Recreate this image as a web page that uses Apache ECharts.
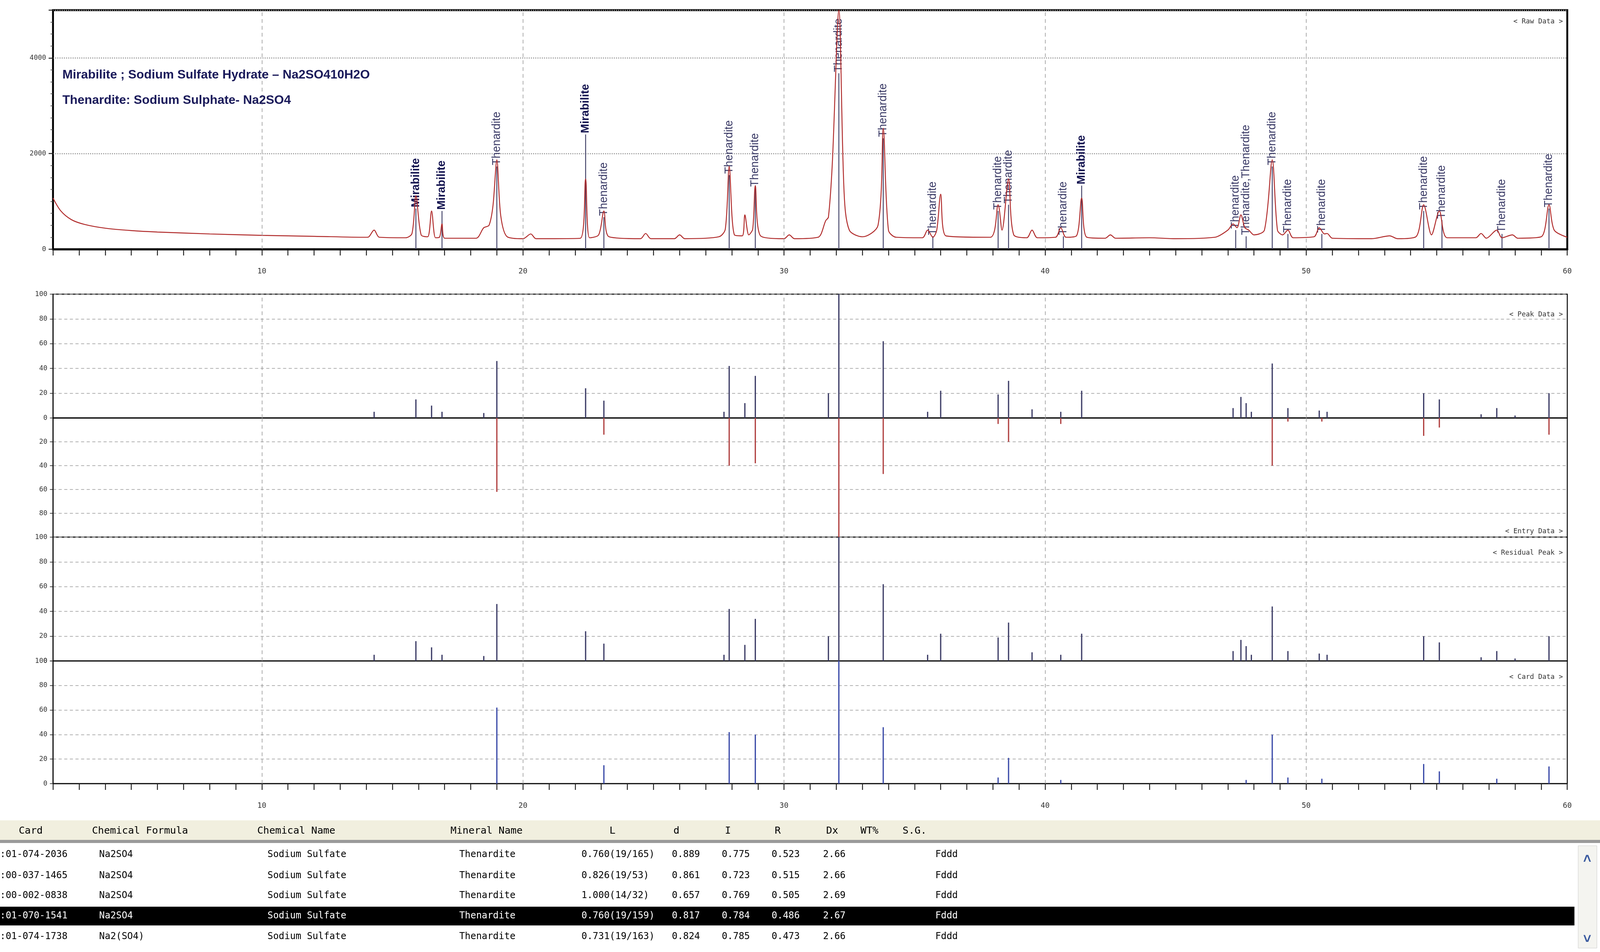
<!DOCTYPE html>
<html>
<head>
<script src="https://cdn.jsdelivr.net/npm/echarts@6/dist/echarts.min.js"></script>
</head>
<body style="margin:0;overflow:hidden">
<div id="main" style="width:100vw;height:100vh;background:#fff"></div>
<script>
// raw scan [2theta, counts]
var rawData = [[2,1070],[2.3,800],[2.7,620],[3.2,520],[4,440],[5,390],[6,360],[8,320],[10,290],[12,270],[14,250],[14.1,260],[14.3,400],[14.5,250],[15.5,240],[15.75,330],[15.9,1120],[16.1,300],[16.35,260],[16.5,800],[16.65,240],[16.8,250],[16.9,530],[17.0,230],[18.2,230],[18.5,450],[18.7,500],[18.85,900],[19.0,1870],[19.15,700],[19.4,260],[20.0,220],[20.3,320],[20.5,220],[22.2,230],[22.4,1470],[22.55,240],[22.9,300],[23.1,800],[23.3,260],[24.5,220],[24.7,330],[24.9,220],[25.8,220],[26.0,300],[26.2,220],[27.5,260],[27.75,420],[27.9,1730],[28.1,300],[28.4,280],[28.5,720],[28.65,300],[28.8,420],[28.9,1330],[29.1,280],[30.0,220],[30.2,300],[30.4,220],[31.3,250],[31.6,600],[31.7,670],[31.85,1800],[32.1,5000],[32.3,1200],[32.5,400],[33.0,260],[33.6,500],[33.8,2530],[34.0,400],[34.3,250],[35.3,240],[35.5,400],[35.7,250],[35.85,400],[36.0,1150],[36.2,280],[37.9,250],[38.2,930],[38.35,400],[38.6,1470],[38.8,300],[39.3,240],[39.5,400],[39.7,240],[40.4,250],[40.6,450],[40.8,250],[41.2,280],[41.4,1070],[41.6,250],[42.3,230],[42.5,300],[42.7,230],[44,240],[45,220],[46.5,250],[47.0,400],[47.2,530],[47.35,450],[47.5,720],[47.65,450],[47.8,400],[48.0,300],[48.4,400],[48.7,1870],[48.9,400],[49.1,300],[49.3,400],[49.5,240],[50.3,260],[50.5,450],[50.7,320],[50.8,330],[51.0,230],[52.5,220],[53.2,280],[53.5,220],[54.2,260],[54.5,930],[54.8,300],[55.1,800],[55.4,240],[56.5,240],[56.7,330],[56.9,230],[57.3,400],[57.5,240],[57.9,300],[58.1,230],[59.0,260],[59.3,930],[59.5,400],[60,250]];

// phase labels [2theta, label base counts, text, bold]
var phaseLabels = [[15.9,850,'Mirabilite',1],[16.9,800,'Mirabilite',1],[19.0,1730,'Thenardite',0],[22.4,2400,'Mirabilite',1],[23.1,670,'Thenardite',0],[27.9,1550,'Thenardite',0],[28.9,1280,'Thenardite',0],[32.1,3680,'Thenardite',0],[33.8,2320,'Thenardite',0],[35.7,270,'Thenardite',0],[38.2,800,'Thenardite',0],[38.6,930,'Thenardite',0],[40.7,270,'Thenardite',0],[41.4,1330,'Mirabilite',1],[47.3,400,'Thenardite',0],[47.7,270,'Thenardite,Thenardite',0],[48.7,1730,'Thenardite',0],[49.3,320,'Thenardite',0],[50.6,320,'Thenardite',0],[54.5,800,'Thenardite',0],[55.2,610,'Thenardite',0],[57.5,320,'Thenardite',0],[59.3,850,'Thenardite',0]];

var peakData = [[14.3,5],[15.9,15],[16.5,10],[16.9,5],[18.5,4],[19.0,46],[22.4,24],[23.1,14],[27.7,5],[27.9,42],[28.5,12],[28.9,34],[31.7,20],[32.1,100],[33.8,62],[35.5,5],[36.0,22],[38.2,19],[38.6,30],[39.5,7],[40.6,5],[41.4,22],[47.2,8],[47.5,17],[47.7,12],[47.9,5],[48.7,44],[49.3,8],[50.5,6],[50.8,5],[54.5,20],[55.1,15],[56.7,3],[57.3,8],[58.0,2],[59.3,20]];
var entryData = [[19.0,62],[23.1,14],[27.9,40],[28.9,38],[32.1,100],[33.8,47],[38.2,5],[38.6,20],[40.6,5],[48.7,40],[49.3,3],[50.6,3],[54.5,15],[55.1,8],[59.3,14]];
var residualData = [[14.3,5],[15.9,16],[16.5,11],[16.9,5],[18.5,4],[19.0,46],[22.4,24],[23.1,14],[27.7,5],[27.9,42],[28.5,13],[28.9,34],[31.7,20],[32.1,100],[33.8,62],[35.5,5],[36.0,22],[38.2,19],[38.6,31],[39.5,7],[40.6,5],[41.4,22],[47.2,8],[47.5,17],[47.7,12],[47.9,5],[48.7,44],[49.3,8],[50.5,6],[50.8,5],[54.5,20],[55.1,15],[56.7,3],[57.3,8],[58.0,2],[59.3,20]];
var cardData = [[19.0,62],[23.1,15],[27.9,42],[28.9,40],[32.1,100],[33.8,46],[38.2,5],[38.6,21],[40.6,3],[47.7,3],[48.7,40],[49.3,5],[50.6,4],[54.5,16],[55.1,10],[57.3,4],[59.3,14]];

var tableHeader = ['Card','Chemical Formula','Chemical Name','Mineral Name','L','d','I','R','Dx','WT%','S.G.'];
var tableRows = [
  [':01-074-2036','Na2SO4','Sodium Sulfate','Thenardite','0.760(19/165)','0.889','0.775','0.523','2.66','','Fddd'],
  [':00-037-1465','Na2SO4','Sodium Sulfate','Thenardite','0.826(19/53)','0.861','0.723','0.515','2.66','','Fddd'],
  [':00-002-0838','Na2SO4','Sodium Sulfate','Thenardite','1.000(14/32)','0.657','0.769','0.505','2.69','','Fddd'],
  [':01-070-1541','Na2SO4','Sodium Sulfate','Thenardite','0.760(19/159)','0.817','0.784','0.486','2.67','','Fddd'],
  [':01-074-1738','Na2(SO4)','Sodium Sulfate','Thenardite','0.731(19/163)','0.824','0.785','0.473','2.66','','Fddd']
];
var selectedRow = 3;
var panelTitles = ['< Raw Data >','< Peak Data >','< Entry Data >','< Residual Peak >','< Card Data >'];
var noteLines = ['Mirabilite ; Sodium Sulfate Hydrate \u2013 Na2SO410H2O','Thenardite: Sodium Sulphate- Na2SO4'];
var decadeLines = [10,20,30,40,50];

var dom = document.getElementById('main');
var SX = dom.clientWidth / 5132, SY = dom.clientHeight / 2437;   // layout measured in reference pixels
function px(v){ return v * SX; }
function py(v){ return v * SY; }
function font(size, w, fam){ return (w ? w + ' ' : '') + px(size) + 'px ' + fam; }

var mono = 'DejaVu Sans Mono';
var L = px(170), R = px(105);
var grids = [
  {left:L,right:R,top:py(26),height:py(612)},
  {left:L,right:R,top:py(753),height:py(317)},
  {left:L,right:R,top:py(1070),height:py(305)},
  {left:L,right:R,top:py(1375),height:py(317)},
  {left:L,right:R,top:py(1692),height:py(314)}
];
grids.forEach(function(g,i){g.show=true;g.borderColor='#000';g.borderWidth=px(i===0?6:3);g.backgroundColor='#fff';});

function xAx(i, labels){
  return {type:'value',gridIndex:i,min:2,max:60,interval:1,
    axisLine:{show:true,lineStyle:{color:'#000',width:px(i===0?6:3)}},
    axisTick:{show:i===0||i===4,length:py(16),lineStyle:{color:'#222',width:px(3)}},
    axisLabel:{show:labels,margin:py(40),fontFamily:mono,fontSize:px(24),color:'#333',
      formatter:function(v){return v%10===0?String(v):'';}},
    splitLine:{show:false}};
}
function yAx(i){
  if(i===0) return {type:'value',gridIndex:0,min:0,max:5000,interval:2000,
    axisLine:{show:true,lineStyle:{color:'#000',width:px(3)}},axisTick:{show:true,length:px(14),lineStyle:{color:'#222',width:px(3)}},
    minorTick:{show:true,splitNumber:8,length:px(8),lineStyle:{color:'#444',width:px(2)}},
    axisLabel:{fontFamily:mono,fontSize:px(22),color:'#333',margin:px(22),showMaxLabel:false,formatter:function(v){return String(v);}},
    splitLine:{show:true,lineStyle:{color:'#999',type:[px(3),px(4)],width:px(4)}}};
  return {type:'value',gridIndex:i,min:0,max:100,interval:20,inverse:i===2,
    axisLine:{show:true,lineStyle:{color:'#000',width:px(3)}},axisTick:{show:true,length:px(10),lineStyle:{color:'#222',width:px(2)}},
    axisLabel:{fontFamily:mono,fontSize:px(22),color:'#333',margin:px(18),showMinLabel:i!==2,showMaxLabel:i!==2},
    splitLine:{show:true,lineStyle:{color:'#999',type:[px(10),px(8)],width:px(2)}}};
}
function vlines(){
  return {silent:true,symbol:'none',label:{show:false},
    lineStyle:{color:'#999',type:[px(12),px(10)],width:px(2)},data:decadeLines.map(function(v){return {xAxis:v};})};
}
function sticks(i,data,color){
  return {type:'bar',xAxisIndex:i,yAxisIndex:i,data:data,barWidth:px(4),itemStyle:{color:color},
    markLine:vlines(),silent:true,z:3};
}

var graphics = [];
var titleTop = [40,790,1345,1400,1718];
panelTitles.forEach(function(t,i){
  graphics.push({type:'text',right:R+px(14),top:py(titleTop[i]),style:{text:t,font:font(22,'',mono),fill:'#333'},z:10});
});
noteLines.forEach(function(t,i){
  graphics.push({type:'text',left:px(200),top:py(165+i*65),style:{text:t,font:font(40,'bold','"Liberation Sans"'),fill:'#1a1a5a'},z:10});
});
// table
var hx = [60,295,825,1445,1955,2160,2325,2485,2650,2760,2895];
var vx = [0,318,858,1473,1865,2155,2315,2475,2640,2760,3000];
graphics.push({type:'rect',shape:{x:0,y:py(2100),width:px(5132),height:py(50)},style:{fill:'#f1efdf'}});
graphics.push({type:'rect',shape:{x:0,y:py(2150),width:px(5132),height:py(8)},style:{fill:'#9a9a9a'}});
tableHeader.forEach(function(t,j){
  graphics.push({type:'text',x:px(hx[j]),y:py(2127),style:{text:t,font:font(32,'',mono),fill:'#000',textVerticalAlign:'middle'}});
});
var rowY = [2188,2242,2293,2345,2398];
tableRows.forEach(function(r,k){
  var sel = k===selectedRow;
  if(sel) graphics.push({type:'rect',shape:{x:0,y:py(rowY[k]-24),width:px(5050),height:py(48)},style:{fill:'#000'}});
  r.forEach(function(t,j){
    if(!t) return;
    graphics.push({type:'text',x:px(vx[j]),y:py(rowY[k]),style:{text:t,font:font(30,'',mono),fill:sel?'#fff':'#000',textVerticalAlign:'middle'}});
  });
});
graphics.push({type:'rect',shape:{x:px(5062),y:py(2165),width:px(60),height:py(262)},style:{fill:'#f4f4f0',stroke:'#ccc'}});
graphics.push({type:'text',x:px(5078),y:py(2170),style:{text:'\u02c4',font:font(44,'bold','sans-serif'),fill:'#3a5aa0'}});
graphics.push({type:'text',x:px(5078),y:py(2375),style:{text:'\u02c5',font:font(44,'bold','sans-serif'),fill:'#3a5aa0'}});

var option = {
  backgroundColor:'#fff',
  animation:false,
  grid:grids,
  xAxis:[xAx(0,true),xAx(1,false),xAx(2,false),xAx(3,false),xAx(4,true)],
  yAxis:[yAx(0),yAx(1),yAx(2),yAx(3),yAx(4)],
  graphic:graphics,
  series:[
    {type:'line',xAxisIndex:0,yAxisIndex:0,data:rawData,showSymbol:false,smooth:0.3,
      lineStyle:{color:'#b02a2a',width:px(3)},markLine:vlines(),z:4,clip:true},
    {type:'bar',xAxisIndex:0,yAxisIndex:0,barWidth:px(3),z:3,silent:true,
      data:phaseLabels.map(function(p){
        return {value:[p[0],p[1]],label:{fontWeight:p[3]?'bold':'normal',color:p[3]?'#141450':'#3a3a66'}};
      }),
      itemStyle:{color:'#44446a'},
      label:{show:true,position:'top',rotate:90,align:'left',verticalAlign:'middle',distance:px(4),
        fontFamily:'Liberation Sans',fontSize:px(36),
        formatter:function(p){return phaseLabels[p.dataIndex][2];}}},
    sticks(1,peakData,'#3c3c66'),
    sticks(2,entryData,'#b04040'),
    sticks(3,residualData,'#3c3c66'),
    sticks(4,cardData,'#3a4aa8')
  ]
};
echarts.init(dom).setOption(option);
</script>
</body>
</html>
